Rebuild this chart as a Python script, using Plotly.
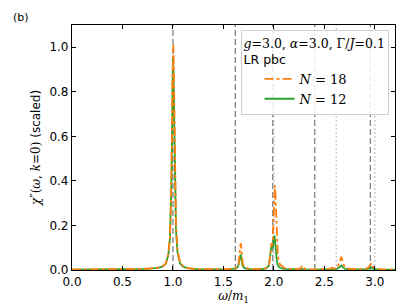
import plotly.graph_objects as go

# omega / m1 sample points
omega = [0.0, 0.2, 0.4, 0.6, 0.75, 0.85, 0.9, 0.93, 0.955, 0.97, 0.98, 0.985, 0.99, 0.995,
         1.0, 1.005, 1.01, 1.015, 1.02, 1.03, 1.045, 1.07, 1.1, 1.15, 1.25, 1.4, 1.55,
         1.62, 1.64, 1.65, 1.66, 1.665, 1.67, 1.675, 1.68, 1.69, 1.70, 1.72, 1.76, 1.85,
         1.92, 1.95, 1.96, 1.97, 1.975, 1.98, 1.99, 2.0, 2.005, 2.01, 2.015, 2.02, 2.03,
         2.04, 2.06, 2.1, 2.18, 2.25, 2.27, 2.28, 2.29, 2.31, 2.4, 2.5, 2.56, 2.58, 2.6,
         2.63, 2.65, 2.66, 2.67, 2.68, 2.7, 2.74, 2.82, 2.9, 2.94, 2.955, 2.965, 2.98,
         3.02, 3.1, 3.2]

chi_n18 = [0.002, 0.002, 0.003, 0.004, 0.006, 0.011, 0.017, 0.03, 0.075, 0.15, 0.29, 0.41, 0.60, 0.85,
           0.99, 1.01, 0.86, 0.63, 0.43, 0.21, 0.09, 0.035, 0.017, 0.008, 0.004, 0.003, 0.004,
           0.008, 0.015, 0.03, 0.07, 0.10, 0.12, 0.11, 0.075, 0.035, 0.02, 0.01, 0.005, 0.004,
           0.008, 0.02, 0.05, 0.11, 0.12, 0.11, 0.14, 0.26, 0.34, 0.38, 0.35, 0.27, 0.13,
           0.06, 0.025, 0.01, 0.004, 0.004, 0.01, 0.02, 0.012, 0.004, 0.002, 0.003, 0.006, 0.01, 0.006,
           0.012, 0.04, 0.055, 0.06, 0.04, 0.015, 0.005, 0.003, 0.004, 0.012, 0.025, 0.03, 0.015,
           0.004, 0.002, 0.002]

chi_n12 = [0.002, 0.002, 0.003, 0.004, 0.005, 0.01, 0.016, 0.028, 0.07, 0.14, 0.27, 0.39, 0.57, 0.82,
           0.95, 0.90, 0.72, 0.52, 0.37, 0.18, 0.08, 0.03, 0.015, 0.007, 0.004, 0.003, 0.003,
           0.006, 0.012, 0.025, 0.05, 0.065, 0.07, 0.06, 0.04, 0.02, 0.012, 0.006, 0.004, 0.003,
           0.006, 0.02, 0.05, 0.10, 0.11, 0.095, 0.10, 0.145, 0.155, 0.14, 0.11, 0.08, 0.04,
           0.02, 0.01, 0.005, 0.003, 0.002, 0.003, 0.004, 0.003, 0.002, 0.002, 0.002, 0.003, 0.004, 0.004,
           0.006, 0.014, 0.02, 0.02, 0.014, 0.006, 0.003, 0.002, 0.003, 0.006, 0.01, 0.011, 0.006,
           0.003, 0.002, 0.002]

# E8 mass ratios (dashed) and two-particle thresholds (dotted)
mass_ratios = [1.0, 1.618, 1.989, 2.405, 2.956]
thresholds = [2.0, 2.618, 3.0]

x_ticks = [0.0, 0.5, 1.0, 1.5, 2.0, 2.5, 3.0]
y_ticks = [0.0, 0.2, 0.4, 0.6, 0.8, 1.0]

SERIF = "DejaVu Serif"
SANS = "DejaVu Sans"

fig = go.Figure()

for m in mass_ratios:
    fig.add_vline(x=m, line=dict(color="#808080", width=1.3, dash="6px,3px"), layer="below")
for t in thresholds:
    fig.add_vline(x=t, line=dict(color="#c8c8c8", width=1.3, dash="2px,2px"), layer="below")

fig.add_trace(go.Scatter(
    x=omega, y=chi_n12, mode="lines", name="<i>N</i> = 12",
    line=dict(color="#2ca02c", width=1.8), legendrank=2,
))
fig.add_trace(go.Scatter(
    x=omega, y=chi_n18, mode="lines", name="<i>N</i> = 18",
    line=dict(color="#ff7f0e", width=1.8, dash="dashdot"), legendrank=1,
))

axis_common = dict(
    showline=True, linecolor="black", linewidth=1.2, mirror="ticks",
    ticks="inside", ticklen=4, tickwidth=1, tickcolor="black",
    showgrid=False, zeroline=False,
    tickfont=dict(family=SANS, size=12, color="black"),
)

fig.update_xaxes(
    range=[0, 3.2], tickvals=x_ticks, ticktext=[f"{v:.1f}" for v in x_ticks],
    title=dict(text="<i>ω</i>/<i>m</i><sub>1</sub>", font=dict(family=SERIF, size=12, color="black"), standoff=4),
    **axis_common,
)
fig.update_yaxes(
    range=[0, 1.1], tickvals=y_ticks, ticktext=[f"{v:.1f}" for v in y_ticks],
    title=dict(
        text="<i>χ</i>″(<i>ω</i>, <i>k</i>=0) <span style='font-family:DejaVu Sans'>(scaled)</span>",
        font=dict(family=SERIF, size=12, color="black"), standoff=6,
    ),
    **axis_common,
)

fig.add_annotation(
    text="(b)", xref="paper", yref="paper", x=-0.19, y=1.03,
    xanchor="left", yanchor="middle", showarrow=False,
    font=dict(family=SANS, size=11, color="black"),
)

fig.update_layout(
    width=407, height=305,
    margin=dict(l=64, r=20, t=17, b=37),
    plot_bgcolor="white", paper_bgcolor="white",
    legend=dict(
        x=0.98, y=0.978, xanchor="right", yanchor="top",
        bgcolor="rgba(255,255,255,0.85)", bordercolor="#d0d0d0", borderwidth=1,
        font=dict(family=SERIF, size=13, color="black"),
        title=dict(
            text="<i>g</i>=3.0, <i>α</i>=3.0, Γ/<i>J</i>=0.1<br><span style='font-family:DejaVu Sans'>LR pbc</span>",
            font=dict(family=SERIF, size=12.5, color="black"),
        ),
        indentation=18, tracegroupgap=0, itemwidth=30,
    ),
    showlegend=True,
)

fig.write_html("out.html")
